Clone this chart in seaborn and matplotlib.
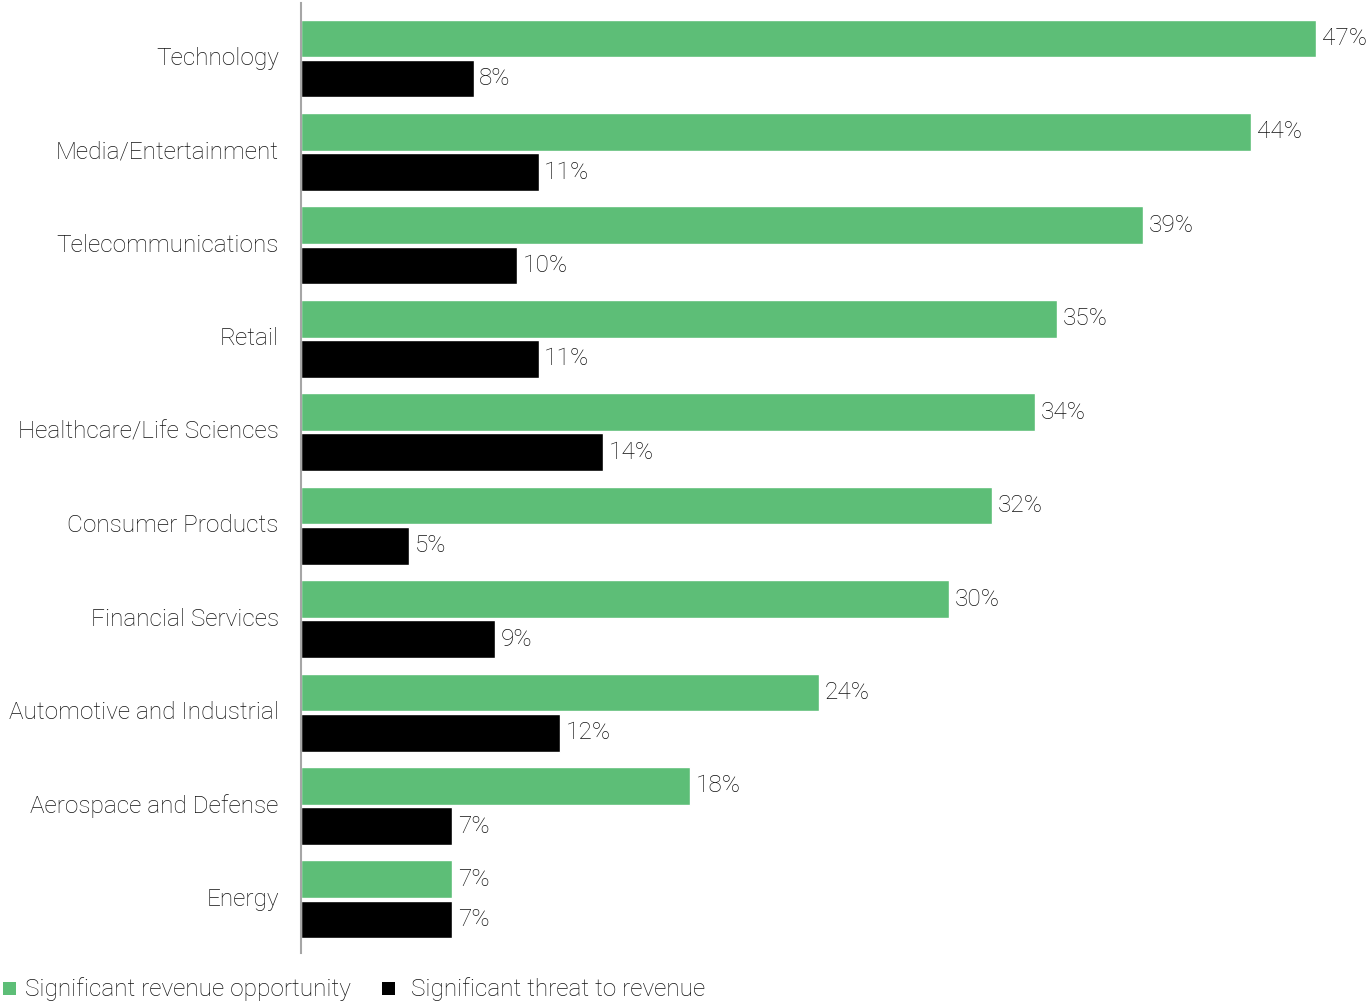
import matplotlib
matplotlib.use("Agg")
import matplotlib.pyplot as plt
from matplotlib.patches import Rectangle
import seaborn as sns
import pandas as pd

industries = [
    "Technology", "Media/Entertainment", "Telecommunications", "Retail",
    "Healthcare/Life Sciences", "Consumer Products", "Financial Services",
    "Automotive and Industrial", "Aerospace and Defense", "Energy",
]
opportunity = [47, 44, 39, 35, 34, 32, 30, 24, 18, 7]
threat = [8, 11, 10, 11, 14, 5, 9, 12, 7, 7]
series_names = ["Significant revenue opportunity", "Significant threat to revenue"]
colors = ["#5dbe77", "#000000"]

df = pd.DataFrame({
    "industry": industries * 2,
    "value": opportunity + threat,
    "series": [series_names[0]] * len(industries) + [series_names[1]] * len(industries),
})

sns.set_theme(style="white")
plt.rcParams["font.family"] = ["Roboto", "DejaVu Sans"]
plt.rcParams["font.weight"] = "light"

TEXT = "#111111"
FS = 17.6

fig = plt.figure(figsize=(13.7, 10.02), dpi=100)
ax = fig.add_axes([301 / 1370, 1 - 953 / 1002, 1 - 301 / 1370, 950 / 1002])

sns.barplot(
    data=df, y="industry", x="value", hue="series", order=industries,
    hue_order=series_names, palette=colors, orient="h",
    width=0.86, gap=0.06, saturation=1, legend=False, ax=ax,
)

ax.set_xlim(0, (1370 - 301) / 21.6)
ax.set_ylim(9.573, -0.594)
ax.set_xlabel("")
ax.set_ylabel("")
ax.set_xticks([])
ax.tick_params(axis="y", length=0, pad=16, labelsize=FS, labelcolor=TEXT)
for lbl in ax.get_yticklabels():
    lbl.set_fontweight("light")
    lbl.set_verticalalignment("center")
for side in ["top", "right", "bottom"]:
    ax.spines[side].set_visible(False)
ax.spines["left"].set_color("#a6a6a6")
ax.spines["left"].set_linewidth(1.5)

for container in ax.containers:
    ax.bar_label(container, fmt="%d%%", padding=4, fontsize=FS,
                 color=TEXT, fontweight="light")

# Legend row along the bottom edge
legend_items = [(3, 25, series_names[0], colors[0]),
                (382, 411, series_names[1], colors[1])]
for sq_x, txt_x, name, col in legend_items:
    fig.patches.append(Rectangle((sq_x / 1370, 1 - 995 / 1002), 13 / 1370, 13 / 1002,
                                 transform=fig.transFigure, facecolor=col,
                                 edgecolor="none"))
    fig.text(txt_x / 1370, 1 - 989 / 1002, name, fontsize=FS,
             color=TEXT, fontweight="light", va="center", ha="left")

fig.savefig("out.png", dpi=100, facecolor="white")
